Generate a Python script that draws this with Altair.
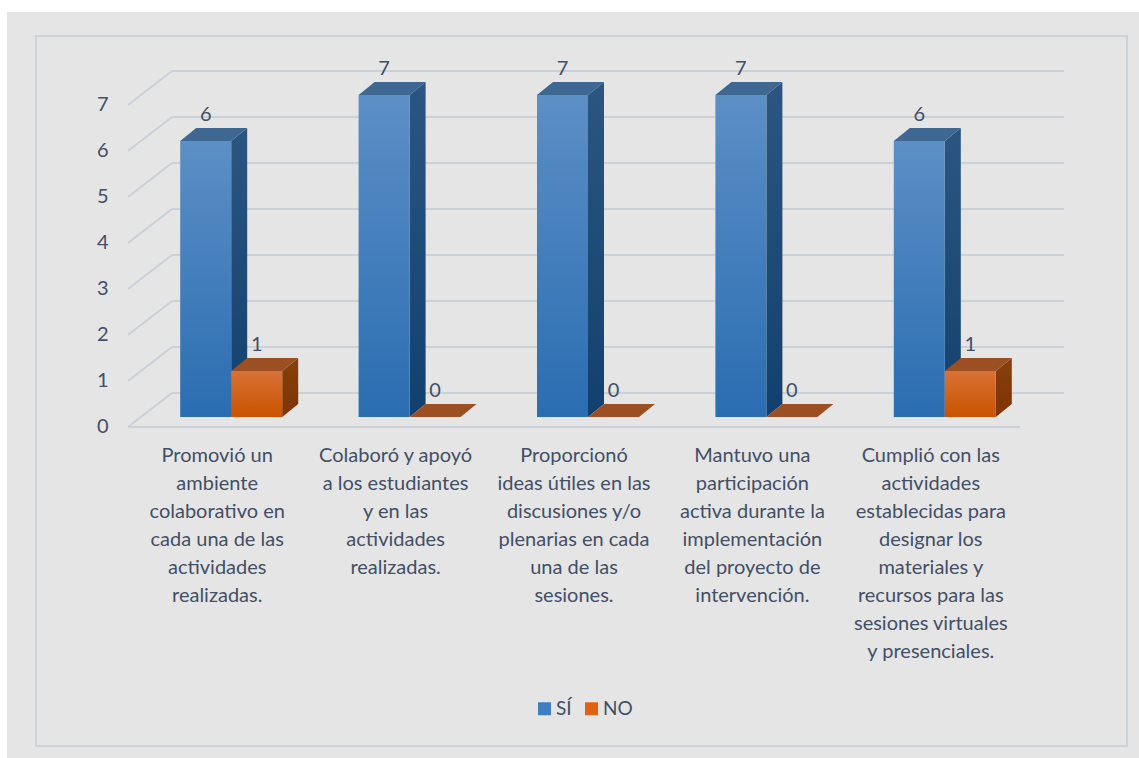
import altair as alt
import pandas as pd

# Survey answers per statement
statements = [
    "Promovió un\nambiente\ncolaborativo en\ncada una de las\nactividades\nrealizadas.",
    "Colaboró y apoyó\na los estudiantes\ny en las\nactividades\nrealizadas.",
    "Proporcionó\nideas útiles en las\ndiscusiones y/o\nplenarias en cada\nuna de las\nsesiones.",
    "Mantuvo una\nparticipación\nactiva durante la\nimplementación\ndel proyecto de\nintervención.",
    "Cumplió con las\nactividades\nestablecidas para\ndesignar los\nmateriales y\nrecursos para las\nsesiones virtuales\ny presenciales.",
]
si_counts = [6, 7, 7, 7, 6]
no_counts = [1, 0, 0, 0, 1]
y_ticks = [0, 1, 2, 3, 4, 5, 6, 7]

# Pixel sizes of the fake-3D construction
W, H = 1139, 758
FLOOR_LEFT, FLOOR_RIGHT = 128, 1020
FLOOR_Y, UNIT_PX = 427, 46
SLOT_PX = (FLOOR_RIGHT - FLOOR_LEFT) / 5


def ux(px):
    return px / SLOT_PX


def uy(px):
    return px / UNIT_PX


BAR_W = ux(51)
PLANE_X, PLANE_Y = ux(14), uy(10)     # front face of the columns
DEPTH_X, DEPTH_Y = ux(16), uy(13)     # column depth
BACK_X, BACK_Y = ux(44), uy(34)       # back wall of the chart

TEXT = "#424f66"
GRID = "#cbd1d8"
FONT = "Lato"

x_scale = alt.Scale(domain=[0, 5], range=[FLOOR_LEFT, FLOOR_RIGHT], nice=False, zero=False)
y_scale = alt.Scale(domain=[0, 7], range=[FLOOR_Y, FLOOR_Y - 7 * UNIT_PX], nice=False, zero=False)
# zindex keeps the tick labels above the chart-area background
y_axis = alt.Axis(
    values=y_ticks, ticks=False, domain=False, grid=False, title=None, offset=-108, zindex=1,
    labelFont=FONT, labelFontSize=20, labelColor=TEXT, labelPadding=0, labelOffset=-1)
X = alt.X("x:Q", scale=x_scale, axis=None)
Y = alt.Y("y:Q", scale=y_scale, axis=y_axis)


def vgrad(top, bottom):
    return alt.Gradient(
        gradient="linear", x1=0, y1=0, x2=0, y2=1,
        stops=[alt.GradientStop(color=top, offset=0), alt.GradientStop(color=bottom, offset=1)],
    )


def column_layers(counts, slot_shift, front, side, top):
    """Front, side and top faces of one series of columns."""
    front_rows, side_rows, top_rows = [], [], []
    for i, v in enumerate(counts):
        x0 = i + 0.5 + PLANE_X + slot_shift
        x1 = x0 + BAR_W
        if v > 0:
            front_rows.append(dict(x=x0, x2=x1, y=v + PLANE_Y, y2=PLANE_Y))
            side_rows.append(dict(b=i, x=x1, y=v + PLANE_Y, y2=PLANE_Y))
            side_rows.append(dict(b=i, x=x1 + DEPTH_X, y=v + PLANE_Y + DEPTH_Y, y2=PLANE_Y + DEPTH_Y))
        top_rows.append(dict(b=i, y=v + PLANE_Y, x=x0, x2=x1))
        top_rows.append(dict(b=i, y=v + PLANE_Y + DEPTH_Y, x=x0 + DEPTH_X, x2=x1 + DEPTH_X))
    faces = [
        alt.Chart(pd.DataFrame(side_rows)).mark_area(color=vgrad(*side), interpolate="linear").encode(
            x=X, y=Y, y2="y2:Q", detail="b:N"),
        alt.Chart(pd.DataFrame(top_rows)).mark_area(color=top, orient="horizontal", interpolate="linear").encode(
            y=Y, x=X, x2="x2:Q", detail="b:N"),
        alt.Chart(pd.DataFrame(front_rows)).mark_bar(color=vgrad(*front)).encode(
            x=X, x2="x2:Q", y=Y, y2="y2:Q"),
    ]
    return faces


# Chart-area background and frame
backdrop = alt.Chart(pd.DataFrame({"a": [0]})).mark_rect(color="#e5e5e5").encode(
    x=alt.value(7), x2=alt.value(W), y=alt.value(12), y2=alt.value(H))
frame = alt.Chart(pd.DataFrame({"a": [0]})).mark_rect(
    fillOpacity=0, stroke="#ccd2d7", strokeWidth=2
).encode(x=alt.value(36), x2=alt.value(1127), y=alt.value(36), y2=alt.value(746))

# Gridlines run along the left wall, then across the back wall
grid_rows = []
for t in y_ticks:
    grid_rows += [
        dict(t=t, o=0, x=0, y=t),
        dict(t=t, o=1, x=BACK_X, y=t + BACK_Y),
        dict(t=t, o=2, x=5 + BACK_X, y=t + BACK_Y),
    ]
grid = alt.Chart(pd.DataFrame(grid_rows)).mark_line(color=GRID, strokeWidth=2).encode(
    x=X, y=Y, detail="t:N", order="o:Q")
floor = alt.Chart(pd.DataFrame([dict(o=0, x=0, y=0), dict(o=1, x=5, y=0)])).mark_line(
    color=GRID, strokeWidth=2).encode(x=X, y=Y, order="o:Q")

si_faces = column_layers(si_counts, -BAR_W, ("#5c8fc6", "#2a6db1"), ("#2c5681", "#12406e"), "#3e6891")
no_faces = column_layers(no_counts, 0, ("#d97236", "#c95300"), ("#87400f", "#7f3300"), "#9c4f22")

# Value labels above each column
label_rows = []
for i, (s, n) in enumerate(zip(si_counts, no_counts)):
    for v, shift in ((s, -BAR_W), (n, 0)):
        label_rows.append(dict(x=i + 0.5 + PLANE_X + shift + BAR_W / 2, y=v + PLANE_Y + DEPTH_Y, v=v))
value_labels = alt.Chart(pd.DataFrame(label_rows)).mark_text(
    font=FONT, fontSize=20, color=TEXT, baseline="middle", dy=-13
).encode(x=X, y=Y, text="v:Q")

# Multi-line category captions under the floor
cat_labels = alt.Chart(pd.DataFrame({"x": [i + 0.5 for i in range(5)], "s": statements})).mark_text(
    font=FONT, fontSize=20, color=TEXT, baseline="top", align="center", lineBreak="\n", lineHeight=28
).encode(x=X, y=alt.value(446), text="s:N")

# Legend comes from a colour scale on an invisible layer
legend_layer = alt.Chart(pd.DataFrame({"k": ["SÍ", "NO"]})).mark_square(size=0, opacity=1).encode(
    color=alt.Color("k:N", scale=alt.Scale(domain=["SÍ", "NO"], range=["#3d7fc0", "#e0640f"]),
                    legend=alt.Legend(
                        orient="none", legendX=535, legendY=699, direction="horizontal", title=None,
                        symbolType="square", symbolSize=169, symbolOpacity=1, symbolStrokeWidth=0,
                        labelFont=FONT, labelFontSize=19, labelColor=TEXT, labelOffset=2, columnPadding=10)),
)

chart = alt.layer(
    backdrop, frame, grid, floor, *si_faces, *no_faces, value_labels, cat_labels, legend_layer
).properties(
    width=W, height=H, padding=0, autosize=alt.AutoSizeParams(type="none"), background="#ffffff"
).configure_view(stroke=None)

chart.save("out.html", embed_options={"renderer": "svg", "actions": False})
